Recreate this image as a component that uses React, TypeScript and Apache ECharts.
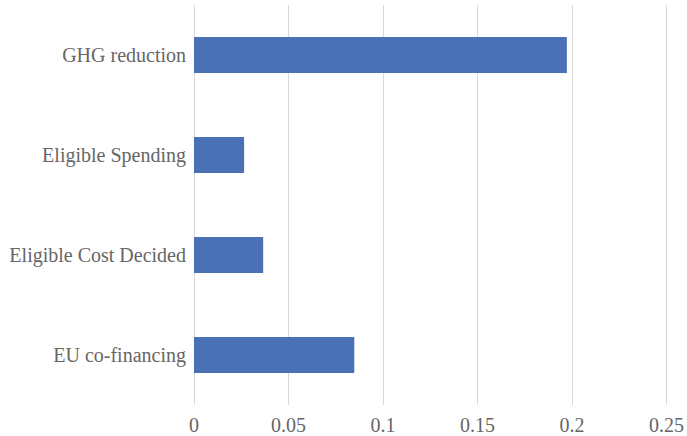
import React, { useEffect, useRef } from "react";
import * as echarts from "echarts";

const categories = ["EU co-financing", "Eligible Cost Decided", "Eligible Spending", "GHG reduction"];
const values = [0.0848, 0.0366, 0.0265, 0.1973];
const xTicks = [0, 0.05, 0.1, 0.15, 0.2, 0.25];

const FONT = "Liberation Serif";

export default function App() {
  const ref = useRef<HTMLDivElement>(null);
  useEffect(() => {
    if (!ref.current) return;
    const chart = echarts.init(ref.current, null, { renderer: "svg" });
    chart.setOption({
      animation: false,
      textStyle: { fontFamily: FONT },
      grid: { left: 194, right: 17.5, top: 5, bottom: 31, containLabel: false },
      xAxis: {
        type: "value",
        min: xTicks[0],
        max: xTicks[xTicks.length - 1],
        interval: 0.05,
        axisLine: { show: false },
        axisTick: { show: false },
        splitLine: { show: true, lineStyle: { color: "#d9d9d9", width: 1 } },
        axisLabel: {
          color: "#666666",
          fontFamily: FONT,
          fontSize: 20,
          margin: 10,
          formatter: (v: number) => String(parseFloat(v.toFixed(2))),
        },
      },
      yAxis: {
        type: "category",
        data: categories,
        axisLine: { show: false },
        axisTick: { show: false },
        axisLabel: {
          color: "#666666",
          fontFamily: FONT,
          fontSize: 20,
          margin: 8,
        },
      },
      series: [
        {
          type: "bar",
          data: values,
          barWidth: 36,
          itemStyle: { color: "#4A70B5" },
        },
      ],
    });
    return () => chart.dispose();
  }, []);
  return <div ref={ref} style={{ width: 687, height: 436, position: "absolute", left: 0, top: 0 }} />;
}
